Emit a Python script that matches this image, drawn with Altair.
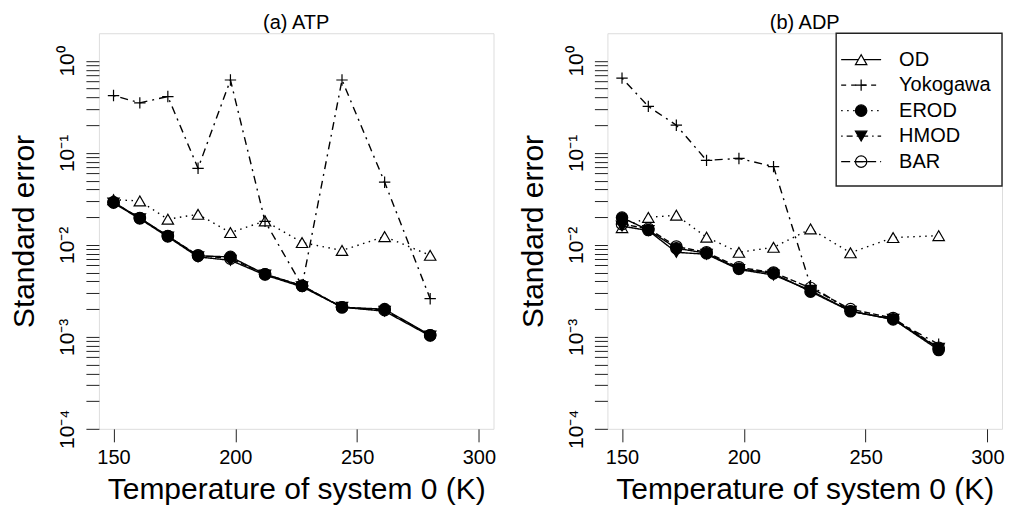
import altair as alt
import pandas as pd

# ---- data ----
T = [150.0, 160.8, 172.3, 184.7, 198.0, 212.2, 227.4, 243.8, 261.3, 280.0]
series = ["OD", "Yokogawa", "EROD", "HMOD", "BAR"]

atp_od = [0.031, 0.030, 0.019, 0.0215, 0.0136, 0.0182, 0.0106, 0.0087, 0.0123, 0.0077]
atp_yoko = [0.42, 0.35, 0.41, 0.068, 0.62, 0.018, 0.0036, 0.62, 0.048, 0.0026]
atp_erod = [0.029, 0.0196, 0.0125, 0.0076, 0.0074, 0.0048, 0.0036, 0.0021, 0.0020, 0.00104]
atp_hmod = [0.0285, 0.0192, 0.0122, 0.0074, 0.0068, 0.0047, 0.0035, 0.0021, 0.0019, 0.00102]
atp_bar = [0.029, 0.0195, 0.0124, 0.0077, 0.0071, 0.0048, 0.0036, 0.0021, 0.00195, 0.00104]

adp_od = [0.0154, 0.0199, 0.0210, 0.0121, 0.0083, 0.0094, 0.0149, 0.0082, 0.0120, 0.0126]
adp_yoko = [0.65, 0.32, 0.20, 0.083, 0.087, 0.071, 0.0036, 0.0019, 0.00155, 0.00083]
adp_erod = [0.0198, 0.0145, 0.0092, 0.0081, 0.0055, 0.0049, 0.0031, 0.0019, 0.00155, 0.00072]
adp_hmod = [0.0160, 0.0143, 0.0083, 0.0079, 0.0054, 0.0047, 0.0032, 0.0019, 0.00155, 0.00075]
adp_bar = [0.0168, 0.0150, 0.0096, 0.0083, 0.0057, 0.0050, 0.0034, 0.0020, 0.0016, 0.00076]

x_ticks = [150, 200, 250, 300]
y_major = [1e-4, 1e-3, 1e-2, 1e-1, 1]
y_major_labels = ["10⁻⁴", "10⁻³", "10⁻²", "10⁻¹", "10⁰"]

panels = {
    "ATP": [atp_od, atp_yoko, atp_erod, atp_hmod, atp_bar],
    "ADP": [adp_od, adp_yoko, adp_erod, adp_hmod, adp_bar],
}
rows = []
for pname, vals in panels.items():
    for s, v in zip(series, vals):
        for t, e in zip(T, v):
            rows.append({"panel": pname, "series": s, "T": t, "se": e})
df = pd.DataFrame(rows)
leg_df = pd.DataFrame({"series": series})

# ---- styles ----
FONT = "Liberation Sans"
INK = "#222222"
plot_dash = [[1.5, 4.5], [2, 5, 8, 5], [1, 0], [1, 0], [6, 3]]
legend_dash = [[1, 0], [5, 5], [1.5, 4.5], [1.5, 4, 6, 4], [9, 4]]
plus = "M-1,0H1M0,-1V1"
bar_sym = "M-1,0A1,1,0,1,1,1,0A1,1,0,1,1,-1,0ZM-1,0H1"
shapes = ["triangle-up", plus, "circle", "triangle-down", bar_sym]
fills = ["white", "transparent", "black", "black", "transparent"]
sizes = [130, 130, 85, 110, 60]

W, H = 395, 396

y_minor = [m * d for d in y_major[:-1] for m in range(1, 10)] + [1]
label_expr = " : ".join(
    f"datum.value === {v} ? '{lab}'" for v, lab in zip(y_major, y_major_labels)
) + " : ''"

xscale = alt.Scale(domain=[144, 306], nice=False, zero=False)
yscale = alt.Scale(type="log", domain=[1e-4, 2], nice=False)

shape_enc = alt.Shape("series:N", scale=alt.Scale(domain=series, range=shapes), legend=None)
fill_enc = alt.Fill("series:N", scale=alt.Scale(domain=series, range=fills), legend=None)
size_enc = alt.Size("series:N", scale=alt.Scale(domain=series, range=sizes), legend=None)

x_axis = alt.Axis(
    values=x_ticks, title="Temperature of system 0 (K)", grid=False, domain=False,
    tickSize=13, tickColor=INK, labelFontSize=20, titleFontSize=30,
    labelPadding=6, titlePadding=7, labelFlush=False, labelOverlap=False,
    titleFontWeight="normal", labelColor="black", titleColor="black",
    labelFont=FONT, titleFont=FONT)
y_axis = alt.Axis(
    values=y_minor, labelExpr=label_expr, title="Standard error", grid=False,
    domain=False, tickSize=13, tickColor=INK, labelFontSize=21, titleFontSize=30,
    labelAngle=270, labelAlign="center", labelBaseline="alphabetic",
    labelPadding=12, titlePadding=17, labelFlush=False, labelOverlap=False,
    titleFontWeight="normal", labelColor="black", titleColor="black",
    labelFont=FONT, titleFont=FONT)


def make_panel(pname, title, with_legend):
    d = df[df["panel"] == pname]
    x = alt.X("T:Q", scale=xscale, axis=x_axis)
    y = alt.Y("se:Q", scale=yscale, axis=y_axis)
    base = alt.Chart(d)
    lines = base.mark_line(color="black", strokeWidth=1.4).encode(
        x=x, y=y,
        strokeDash=alt.StrokeDash("series:N", scale=alt.Scale(domain=series, range=plot_dash), legend=None),
        detail="series:N",
    )
    pts = base.mark_point(filled=True, stroke="black", strokeWidth=1.2, opacity=1).encode(
        x=x, y=y, shape=shape_enc, fill=fill_enc, size=size_enc,
    )
    main = alt.layer(lines, pts)
    layers = main
    if with_legend:
        ly = alt.Y("series:N", scale=alt.Scale(type="point", domain=series, range=[26.5, 128.5], padding=0), axis=None)
        box = alt.Chart(pd.DataFrame({"k": [0]})).mark_rect(
            fill="white", stroke=INK, strokeWidth=1.4
        ).encode(x=alt.value(229), x2=alt.value(W), y=alt.value(0), y2=alt.value(153))
        lrules = alt.Chart(leg_df).mark_rule(color="black", strokeWidth=1.3).encode(
            x=alt.value(234), x2=alt.value(274), y=ly,
            strokeDash=alt.StrokeDash("series:N", scale=alt.Scale(domain=series, range=legend_dash), legend=None),
        )
        lpts = alt.Chart(leg_df).mark_point(filled=True, stroke="black", strokeWidth=1.2, opacity=1).encode(
            x=alt.value(254), y=ly, shape=shape_enc, fill=fill_enc, size=size_enc,
        )
        ltext = alt.Chart(leg_df).mark_text(
            align="left", baseline="middle", fontSize=20, font=FONT, color="black"
        ).encode(x=alt.value(292), y=ly, text="series:N")
        legend = alt.layer(box, lrules, lpts, ltext)
        layers = alt.layer(main, legend).resolve_scale(y="independent", strokeDash="independent")
    return layers.properties(
        width=W, height=H,
        title=alt.TitleParams(title, fontSize=20, font=FONT, fontWeight="normal",
                              anchor="middle", offset=0, color="black"),
    )


left = make_panel("ATP", "(a) ATP", False)
right = make_panel("ADP", "(b) ADP", True)

chart = alt.hconcat(left, right, spacing=21).properties(
    padding={"left": 1, "top": 3, "right": 0, "bottom": 0}
).configure_view(stroke=INK, strokeWidth=1.5).configure(background="white")

chart.save("out.html", embed_options={"renderer": "svg", "actions": False})
